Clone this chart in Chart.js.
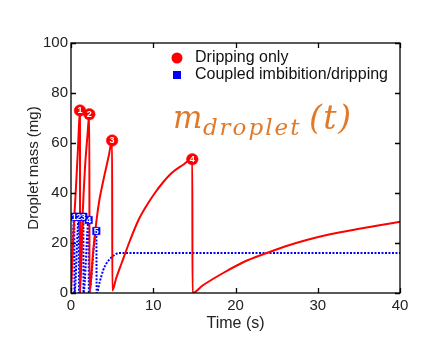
<!DOCTYPE html>
<html>
<head>
<meta charset="utf-8">
<script src="https://cdn.jsdelivr.net/npm/chart.js@4/dist/chart.umd.min.js"></script>
<style>
  html, body { margin: 0; padding: 0; background: #fff; }
  canvas { display: block; }
</style>
</head>
<body>
<canvas id="dropchart" width="422" height="340"></canvas>
<script>
// dripping only (red, solid)
const redTime = [0, 0.3, 0.6, 0.85, 1.09, 1.1, 1.4, 1.7, 2.0, 2.23, 2.25, 2.7, 3.1, 3.44, 3.8, 4.13, 4.6, 5.0, 5.02,
  5.5, 6.16, 7.17, 8.18, 9.2, 10.2, 11.2, 12.24, 13.5, 14.75, 14.77, 16, 18.5, 21, 23.8, 26, 28.65, 31.5, 34.7, 37.5, 40];
const redMass = [0, 24, 42, 58, 73, 0, 30, 50, 63, 71.5, 0, 17, 29, 37, 43, 48, 55, 61, 1,
  6, 12, 21, 29, 35, 40, 44.3, 48, 51, 53.5, 0, 3, 8, 12.4, 16, 18.6, 21.2, 23.5, 25.5, 27.1, 28.5];

// coupled imbibition/dripping (blue, dotted)
const blueTime = [0, 0.4, 0.42, 0.95, 0.97, 1.5, 1.52, 2.15, 2.17, 3.08, 3.12, 3.5, 3.9, 4.3, 4.7, 5.2, 5.8, 40];
const blueMass = [0, 30.5, 0, 30.5, 0, 30.5, 0, 29.2, 0, 24.8, 0, 4.5, 9, 11.8, 13.5, 15, 16, 16];

// numbered drip events
const redPeakTime = [1.09, 2.23, 5.0, 14.75];
const redPeakMass = [73, 71.5, 61, 53.5];
const redPeakLabels = ["1", "2", "3", "4"];
const bluePeakTime = [0.4, 0.95, 1.5, 2.15, 3.08];
const bluePeakMass = [30.5, 30.5, 30.5, 29.2, 24.8];
const bluePeakLabels = ["1", "2", "3", "4", "5"];

const xTicks = [0, 10, 20, 30, 40];
const yTicks = [0, 20, 40, 60, 80, 100];

const RED = "#ff0000";
const BLUE = "#0000ff";
const ORANGE = "#e07a2a";
const TXT = "#222";

function pts(xs, ys) {
    return xs.map((v, i) => ({ x: v, y: ys[i] }));
}

// MATLAB-like box with inward ticks on all sides
const boxTicks = {
    id: "boxTicks",
    afterDatasetsDraw(chart) {
        const { ctx, chartArea: { left, right, top, bottom }, scales: { x, y } } = chart;
        ctx.save();
        ctx.strokeStyle = "#000";
        ctx.lineWidth = 1.3;
        ctx.beginPath();
        xTicks.forEach(v => {
            const px = Math.round(x.getPixelForValue(v)) + 0.5;
            ctx.moveTo(px, bottom); ctx.lineTo(px, bottom - 5);
            ctx.moveTo(px, top); ctx.lineTo(px, top + 5);
        });
        yTicks.forEach(v => {
            const py = Math.round(y.getPixelForValue(v)) + 0.5;
            ctx.moveTo(left, py); ctx.lineTo(left + 5, py);
            ctx.moveTo(right, py); ctx.lineTo(right - 5, py);
        });
        ctx.stroke();
        ctx.strokeRect(left, top, right - left, bottom - top);
        ctx.restore();
    }
};

// white numbers inside the event markers
const peakNumbers = {
    id: "peakNumbers",
    afterDatasetsDraw(chart) {
        const ctx = chart.ctx;
        ctx.save();
        ctx.fillStyle = "#fff";
        ctx.textAlign = "center";
        ctx.textBaseline = "middle";
        ctx.font = "bold 9px 'Liberation Sans', Arial, sans-serif";
        chart.data.datasets.forEach((ds, i) => {
            if (!ds.numbers) return;
            chart.getDatasetMeta(i).data.forEach((el, j) => {
                ctx.fillText(ds.numbers[j], el.x, el.y + 0.5);
            });
        });
        ctx.restore();
    }
};

// legend inside the axes + the m_droplet(t) note
const extras = {
    id: "extras",
    afterDraw(chart) {
        const ctx = chart.ctx;
        ctx.save();
        ctx.fillStyle = RED;
        ctx.beginPath();
        ctx.arc(177, 58, 5.5, 0, Math.PI * 2);
        ctx.fill();
        ctx.fillStyle = BLUE;
        ctx.fillRect(173, 71, 8, 8);
        ctx.fillStyle = "#111";
        ctx.textBaseline = "middle";
        ctx.font = "16px 'Liberation Sans', Arial, sans-serif";
        ctx.fillText("Dripping only", 195, 58);
        ctx.fillText("Coupled imbibition/dripping", 195, 75);

        ctx.fillStyle = ORANGE;
        ctx.textBaseline = "alphabetic";
        let cx = 173;
        ctx.font = "italic 31px 'DejaVu Serif', serif";
        ctx.fillText("m", cx, 128);
        cx += ctx.measureText("m").width + 0.5;
        ctx.font = "italic 23px 'DejaVu Serif', serif";
        for (const ch of "droplet") {
            ctx.fillText(ch, cx, 135);
            cx += ctx.measureText(ch).width + 2;
        }
        cx = 309;
        ctx.font = "italic 33px 'DejaVu Serif', serif";
        for (const ch of "(t)") {
            ctx.fillText(ch, cx, 129);
            cx += ctx.measureText(ch).width + 1.5;
        }
        ctx.restore();
    }
};

new Chart(document.getElementById("dropchart"), {
    type: "scatter",
    data: {
        datasets: [{
            data: pts(redPeakTime, redPeakMass),
            numbers: redPeakLabels,
            pointStyle: "circle",
            pointRadius: 5.8,
            backgroundColor: RED,
            borderColor: RED,
            borderWidth: 0.5,
            showLine: false
        }, {
            data: pts(bluePeakTime, bluePeakMass),
            numbers: bluePeakLabels,
            pointStyle: "rect",
            pointRadius: 5.3,
            backgroundColor: BLUE,
            borderColor: BLUE,
            borderWidth: 0.5,
            showLine: false
        }, {
            data: pts(redTime, redMass),
            showLine: true,
            borderColor: RED,
            borderWidth: 2,
            pointRadius: 0,
            cubicInterpolationMode: "monotone"
        }, {
            data: pts(blueTime, blueMass),
            showLine: true,
            borderColor: BLUE,
            borderWidth: 2,
            borderDash: [2, 1.5],
            pointRadius: 0,
            cubicInterpolationMode: "monotone"
        }]
    },
    options: {
        responsive: false,
        animation: false,
        layout: { padding: { top: 43, right: 22, left: 0, bottom: 0 } },
        plugins: { legend: { display: false }, tooltip: { enabled: false } },
        scales: {
            x: {
                type: "linear", min: 0, max: 40,
                afterBuildTicks: s => { s.ticks = xTicks.map(v => ({ value: v })); },
                afterFit: s => { s.height = 47; },
                grid: { display: false, drawTicks: false },
                border: { display: false },
                ticks: { color: TXT, padding: 4, maxRotation: 0, font: { family: "'Liberation Sans', Arial, sans-serif", size: 15 } },
                title: { display: true, text: "Time (s)", color: TXT, padding: { top: 0, bottom: 7 }, font: { family: "'Liberation Sans', Arial, sans-serif", size: 16 } }
            },
            y: {
                type: "linear", min: 0, max: 100,
                afterBuildTicks: s => { s.ticks = yTicks.map(v => ({ value: v })); },
                afterFit: s => { s.width = 71; },
                grid: { display: false, drawTicks: false },
                border: { display: false },
                ticks: { color: TXT, padding: 3, font: { family: "'Liberation Sans', Arial, sans-serif", size: 15 } },
                title: { display: true, text: "Droplet mass (mg)", color: TXT, padding: { top: 25, bottom: 0 }, font: { family: "'Liberation Sans', Arial, sans-serif", size: 15 } }
            }
        }
    },
    plugins: [boxTicks, peakNumbers, extras]
});
</script>
</body>
</html>
